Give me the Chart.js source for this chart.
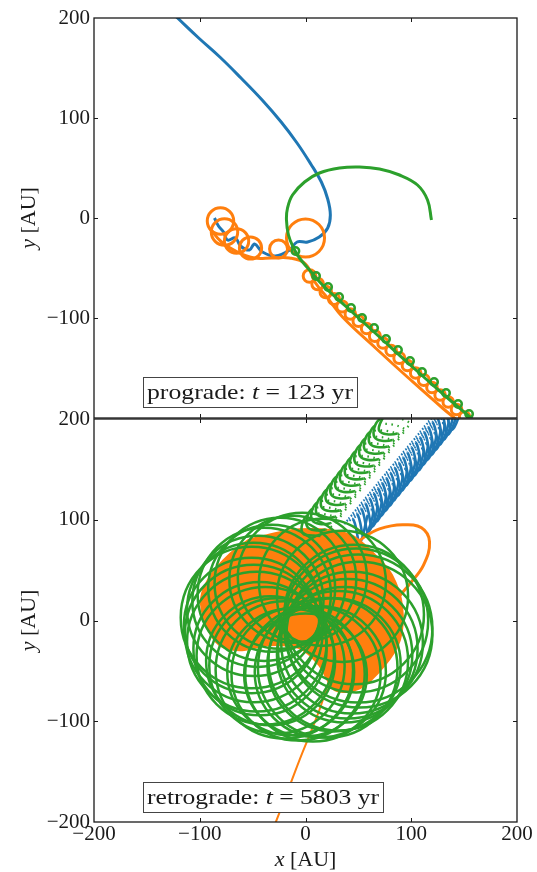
<!DOCTYPE html>
<html>
<head>
<meta charset="utf-8">
<script src="https://cdn.jsdelivr.net/npm/chart.js@4/dist/chart.umd.min.js"></script>
<style>
  html, body { margin: 0; padding: 0; background: #fff; }
  #wrap { position: relative; width: 537px; height: 872px; overflow: hidden; }
  #wrap canvas { position: absolute; left: 0; }
</style>
</head>
<body>
<div id="wrap">
  <canvas id="pro" width="537" height="419" style="top:0"></canvas>
  <canvas id="retro" width="537" height="472" style="top:400px"></canvas>
</div>
<script>
// ---- axes ----
const AXIS_MIN = -200;
const AXIS_MAX = 200;
const tickValues = [-200, -100, 0, 100, 200];
const tickLabels = ['\u2212200', '\u2212100', '0', '100', '200'];

// ---- prograde run (t = 123 yr), positions in AU ----
const proBlueX = [-128, -121, -101, -81, -61, -41, -23, -8, 5, 15, 21, 23.5, 21, 13, 2, -8, -15.1, -28.4, -40.7, -48.2, -53.0, -61.5, -66.2, -73.8, -77.5, -82.3, -86.1];
const proBlueY = [207, 200, 180, 161, 140, 118, 96, 75, 54, 36, 19, 3, -10, -19, -24, -24, -32, -38, -34, -26, -32, -28, -20, -22, -14, -8, 0];

const proOrangeX = [-90.8, -79.4, -64.3, -48.2, -32.2, -15.1, 0, 9.5, 20.8, 35.0, 66.2, 97.4, 129.5, 151.3, 160];
const proOrangeY = [-10, -24, -34, -40, -40, -40, -46, -65, -80, -99, -130, -160, -190, -209, -217];
const proOrangeLoopX = [-80.4, -76.6, -65.2, -52.0, -25.5, 0, 3.8, 11.5, 19.2, 27.0, 34.7, 42.4, 50.1, 57.8, 65.6, 73.3, 81.0, 88.7, 96.4, 104.2, 111.9, 119.6, 127.3, 135.0, 142.8, 150.5];
const proOrangeLoopY = [-3, -14, -23, -30, -31, -20, -58, -66, -74, -81, -88.5, -96, -103, -110.5, -118, -125, -132.5, -140, -147.5, -155, -162, -169.5, -177, -184, -191.5, -199];
const proOrangeLoopR = [12.5, 12.5, 11.5, 10.5, 8.5, 18, 6, 5.5, 5.5, 5.2, 5.2, 5, 5.2, 5, 5.2, 5, 5, 5.2, 5, 5, 5.2, 5, 5, 5, 5, 5];

const proGreenX = [119.1, 115.4, 105.9, 88.9, 70.0, 51.1, 32.2, 13.2, -0.9, -12.3, -17.0, -18.0, -16.1, -11.3, -5.7, 3.8, 16.1, 38.8, 70.0, 101.2, 133.3, 159.8, 168];
const proGreenY = [-2, 18, 33, 43, 49, 51, 50, 45, 36, 23, 10, -2, -17, -30, -40, -52, -67, -89, -119, -149, -179, -203, -211];
const proGreenLoopX = [-9.5, 10, 21.4, 31.8, 43.1, 53.5, 64.9, 76.2, 87.5, 98.9, 110.2, 121.6, 132.9, 144.3, 154.7];
const proGreenLoopY = [-33, -58, -69, -79, -90, -100, -110, -121, -132, -143, -154, -164, -175, -186, -196];
const proGreenLoopR = [3.5, 3.5, 3.5, 3.5, 3.5, 3.5, 3.5, 3.5, 3.5, 3.5, 3.5, 3.5, 3.5, 3.5, 3.5];

// ---- retrograde run (t = 5803 yr), positions in AU ----
// blue helix, per turn: left arm top, bottom, right arm top, return stroke
const retBlueX = [132.0, 138.6, 146.2, 119.7, 128.0, 134.6, 142.2, 115.7, 124.1, 130.7, 138.3, 111.8, 120.1, 126.7, 134.3, 107.8, 116.1, 122.7, 130.3, 103.8, 112.2, 118.8, 126.4, 99.9, 108.2, 114.8, 122.4, 95.9, 104.2, 110.8, 118.4, 91.9, 100.3, 106.9, 114.5, 88.0, 96.3, 102.9, 110.5, 84.0, 92.3, 98.9, 106.5, 80.0, 88.3, 94.9, 102.5, 76.0, 84.4, 91.0, 98.6, 72.1, 80.4, 87.0, 94.6, 68.1, 76.4, 83.0, 90.6, 64.1, 72.5, 79.1, 86.7, 60.2, 68.5, 75.1, 82.7, 56.2, 64.5, 71.1, 78.7, 52.2, 60.6, 67.2, 74.8, 48.3, 56.6, 63.2, 70.8, 44.3, 52.6, 59.2, 66.8, 40.3, 48.7, 55.3, 62.9, 36.4, 44.7, 51.3, 58.9];
const retBlueY = [212.2, 189.4, 216.2, 202.3, 207.1, 184.3, 211.1, 197.2, 202.1, 179.3, 206.1, 192.2, 197.0, 174.2, 201.0, 187.1, 191.9, 169.1, 195.9, 182.0, 186.9, 164.1, 190.9, 177.0, 181.8, 159.0, 185.8, 171.9, 176.8, 154.0, 180.8, 166.9, 171.7, 148.9, 175.7, 161.8, 166.6, 143.8, 170.6, 156.7, 161.6, 138.8, 165.6, 151.7, 156.5, 133.7, 160.5, 146.6, 151.5, 128.7, 155.5, 141.6, 146.4, 123.6, 150.4, 136.5, 141.3, 118.5, 145.3, 131.4, 136.3, 113.5, 140.3, 126.4, 131.2, 108.4, 135.2, 121.3, 126.2, 103.4, 130.2, 116.3, 121.1, 98.3, 125.1, 111.2, 116.0, 93.2, 120.0, 106.1, 111.0, 88.2, 115.0, 101.1, 105.9, 83.1, 109.9, 96.0, 100.9, 78.1, 104.9];

// green helix, per turn: arc top, lower-left, lower-right, return stroke
const retGreenCoilX = [75.4, 69.7, 86.8, 98.1, 70.9, 65.2, 82.3, 93.6, 66.4, 60.7, 77.8, 89.1, 61.8, 56.1, 73.2, 84.5, 57.3, 51.6, 68.7, 80.0, 52.7, 47.0, 64.1, 75.4, 48.2, 42.5, 59.6, 70.9, 43.7, 38.0, 55.1, 66.4, 39.1, 33.4, 50.5, 61.8, 34.6, 28.9, 46.0, 57.3, 30.0, 24.3, 41.4, 52.7, 25.5, 19.8, 36.9, 48.2, 21.0, 15.3, 32.4, 43.7, 16.4, 10.7, 27.8, 39.1, 11.9, 6.2, 23.3, 34.6, 7.3, 1.6, 18.7, 30.0, 2.8, -2.9, 14.2];
const retGreenCoilY = [206.4, 188.5, 185.5, 196.5, 200.0, 182.1, 179.1, 190.1, 193.7, 175.8, 172.8, 183.8, 187.3, 169.4, 166.4, 177.4, 181.0, 163.1, 160.1, 171.1, 174.6, 156.7, 153.7, 164.7, 168.3, 150.4, 147.4, 158.4, 161.9, 144.0, 141.0, 152.0, 155.6, 137.7, 134.7, 145.7, 149.2, 131.3, 128.3, 139.3, 142.9, 125.0, 122.0, 133.0, 136.5, 118.6, 115.6, 126.6, 130.2, 112.3, 109.3, 120.3, 123.8, 105.9, 102.9, 113.9, 117.5, 99.6, 96.6, 107.6, 111.1, 93.2, 90.2, 101.2, 104.8, 86.9, 83.9];

// precessing loops of the green orbit: loop centre and radius
const retGreenLoopX = [50, 48, 46, 51, 44, 40, 37, 31, 27, 21, 14, 7, 0, -7, -14, -20, -27, -33, -38, -43, -46, -49, -51, -51, -49, -45, -39, -32, -24, -12, -3, 16, 35];
const retGreenLoopY = [-8, 0, 6, -14, -22, -28, -34, -40, -44, -47, -51, -53, -54, -53, -51, -49, -45, -40, -35, -28, -21, -13, -5, 3, 11, 19, 26, 32, 37, 41, 43, 38, 24];
const retGreenLoopR = [70, 68, 66, 69, 67, 66, 64, 66, 63, 66, 62, 64, 58, 63, 60, 65, 64, 61, 65, 63, 66, 65, 64, 67, 63, 62, 63, 60, 62, 60, 61, 60, 62];

const retOrangeCloudX = [-53.0, -5.7, 41.6, 65.2, 81.3, 90.8, 88.9, 74.7, 51.1, 28.4, 13.2, -5.7, -34.0, -62.4, -81.3, -93.6, -98.3, -88.9, -71.9];
const retOrangeCloudY = [80, 90, 85, 65, 45, 15, -19, -44, -67, -69, -44, -27, -24, -29, -24, -4, 22, 45, 65];
const retOrangeArcX = [43.5, 55.8, 70.0, 91.7, 109.7, 117.3, 111.6, 98.3, 84.2, 74.7];
const retOrangeArcY = [72, 83, 91, 95, 92, 78, 55, 36, 18, 0];
const retOrangeTailX = [22.7, 11.3, -5.7, -19.9, -30.3];
const retOrangeTailY = [-59, -94, -138.5, -178, -206];

// ---- colours ----
const C_BLUE = '#1f77b4';
const C_ORANGE = '#ff7f0e';
const C_GREEN = '#2ca02c';
const SERIF = '"Liberation Serif", "DejaVu Serif", serif';

function pts(xs, ys) { return xs.map((x, i) => ({ x: x, y: ys[i] })); }
function pxPerAU(chart) {
  const s = chart.scales.x;
  return Math.abs(s.getPixelForValue(100) - s.getPixelForValue(0)) / 100;
}

function pathSet(xs, ys, color, order, width) {
  return {
    type: 'scatter', data: pts(xs, ys), showLine: true, borderColor: color,
    borderWidth: width || 3, tension: 0.4, pointRadius: 0, order: order, clip: 0, fill: false
  };
}
// helix turns: the fast return stroke of every turn is only sparsely sampled
function coilSet(xs, ys, color, order) {
  const ds = pathSet(xs, ys, color, order, 2.6);
  const sparse = ctx => ctx.p0DataIndex % 4 >= 2;
  ds.segment = {
    borderDash: ctx => (sparse(ctx) ? [1.5, 4.5] : undefined),
    borderWidth: ctx => (sparse(ctx) ? 2.2 : 2.6)
  };
  return ds;
}
function loopSet(xs, ys, rs, color, order, width) {
  return {
    type: 'scatter', data: pts(xs, ys), showLine: false, order: order, clip: 0,
    pointStyle: 'circle', pointBackgroundColor: 'rgba(0,0,0,0)', pointBorderColor: color,
    pointBorderWidth: width || 3,
    pointRadius: ctx => rs[ctx.dataIndex] * pxPerAU(ctx.chart)
  };
}

// frame, inward ticks, axis titles and the run label
const panelDecor = {
  id: 'panelDecor',
  afterDatasetsDraw(chart, args, opts) {
    const { ctx, chartArea: a } = chart;
    const xs = chart.scales.x, ys = chart.scales.y;
    ctx.save();
    ctx.strokeStyle = '#1a1a1a';
    ctx.lineWidth = 1.3;
    ctx.strokeRect(a.left, a.top, a.right - a.left, a.bottom - a.top);
    ctx.lineWidth = 1;
    ctx.beginPath();
    tickValues.slice(1, -1).forEach(v => {
      const px = Math.round(xs.getPixelForValue(v)) + 0.5;
      ctx.moveTo(px, a.top); ctx.lineTo(px, a.top + 4);
      ctx.moveTo(px, a.bottom); ctx.lineTo(px, a.bottom - 4);
      const py = Math.round(ys.getPixelForValue(v)) + 0.5;
      ctx.moveTo(a.left, py); ctx.lineTo(a.left + 4, py);
      ctx.moveTo(a.right, py); ctx.lineTo(a.right - 4, py);
    });
    ctx.stroke();

    ctx.fillStyle = '#1a1a1a';
    ctx.textBaseline = 'alphabetic';
    const drawRuns = (runs, x, y, size) => {
      let cx = x;
      runs.forEach(r => {
        ctx.font = (r.it ? 'italic ' : '') + size + 'px ' + SERIF;
        ctx.fillText(r.t, cx, y);
        cx += ctx.measureText(r.t).width;
      });
      return cx - x;
    };
    const measureRuns = (runs, size) => runs.reduce((w, r) => {
      ctx.font = (r.it ? 'italic ' : '') + size + 'px ' + SERIF;
      return w + ctx.measureText(r.t).width;
    }, 0);

    // y title
    const yRuns = [{ t: 'y', it: true }, { t: ' [AU]' }];
    const yw = measureRuns(yRuns, 22);
    ctx.save();
    ctx.translate(35, (a.top + a.bottom) / 2);
    ctx.rotate(-Math.PI / 2);
    drawRuns(yRuns, -yw / 2, 0, 22);
    ctx.restore();

    // x title
    if (opts.xTitle) {
      const xRuns = [{ t: 'x', it: true }, { t: ' [AU]' }];
      const xw = measureRuns(xRuns, 22);
      drawRuns(xRuns, (a.left + a.right) / 2 - xw / 2, a.bottom + 44, 22);
    }

    // run label box
    const runs = opts.label;
    const natural = measureRuns(runs, 22);
    const sx = opts.labelWidth / natural;
    const bx = a.left + 49, bw = opts.labelWidth + 8;
    const by = a.bottom - opts.boxBottom - 30;
    ctx.fillStyle = '#fff';
    ctx.fillRect(bx, by, bw, 30);
    ctx.strokeStyle = '#444';
    ctx.lineWidth = 1;
    ctx.strokeRect(bx + 0.5, by + 0.5, bw, 30);
    ctx.fillStyle = '#1a1a1a';
    ctx.save();
    ctx.translate(bx + 4, by + 22);
    ctx.scale(sx, 1);
    drawRuns(runs, 0, 0, 22);
    ctx.restore();
    ctx.restore();
  }
};

function panelOptions(cfg) {
  return {
    responsive: false,
    animation: false,
    events: [],
    layout: { padding: { top: cfg.padTop, right: 20, bottom: cfg.padBottom, left: 0 } },
    elements: { line: { capBezierPoints: false } },
    plugins: {
      legend: { display: false },
      tooltip: { enabled: false },
      panelDecor: cfg.decor
    },
    scales: {
      x: {
        type: 'linear', min: AXIS_MIN, max: AXIS_MAX,
        display: cfg.showX,
        afterBuildTicks: s => { s.ticks = tickValues.map(v => ({ value: v })); },
        ticks: {
          autoSkip: false, maxRotation: 0, padding: 0, color: '#1a1a1a',
          font: { family: SERIF, size: 21 },
          callback: v => tickLabels[tickValues.indexOf(v)]
        },
        grid: { display: false, drawTicks: false },
        border: { display: false },
        afterFit: s => { s.height = cfg.xHeight; s.paddingLeft = 0; s.paddingRight = 0; }
      },
      y: {
        type: 'linear', min: AXIS_MIN, max: AXIS_MAX,
        afterBuildTicks: s => { s.ticks = tickValues.map(v => ({ value: v })); },
        ticks: {
          autoSkip: false, padding: 4, color: '#1a1a1a',
          font: { family: SERIF, size: 21 },
          callback: v => (cfg.hideBottomY && v === AXIS_MIN) ? '' : tickLabels[tickValues.indexOf(v)]
        },
        grid: { display: false, drawTicks: false },
        border: { display: false },
        afterFit: s => { s.width = 94; s.paddingTop = 0; s.paddingBottom = 0; }
      }
    }
  };
}

new Chart(document.getElementById('pro'), {
  type: 'scatter',
  data: {
    datasets: [
      pathSet(proBlueX, proBlueY, C_BLUE, 6),
      pathSet(proOrangeX, proOrangeY, C_ORANGE, 5),
      loopSet(proOrangeLoopX, proOrangeLoopY, proOrangeLoopR, C_ORANGE, 4, 3),
      pathSet(proGreenX, proGreenY, C_GREEN, 2),
      loopSet(proGreenLoopX, proGreenLoopY, proGreenLoopR, C_GREEN, 1, 2.5)
    ]
  },
  plugins: [panelDecor],
  options: panelOptions({
    padTop: 18, padBottom: 1, showX: false, xHeight: 0, hideBottomY: true,
    decor: {
      xTitle: false, labelWidth: 206, boxBottom: 11,
      label: [{ t: 'prograde: ' }, { t: 't', it: true }, { t: ' = 123 yr' }]
    }
  })
});

const cloud = pathSet(retOrangeCloudX.concat([retOrangeCloudX[0]]), retOrangeCloudY.concat([retOrangeCloudY[0]]), C_ORANGE, 8, 0);
cloud.fill = 'shape';
cloud.backgroundColor = C_ORANGE;
cloud.tension = 0.3;

new Chart(document.getElementById('retro'), {
  type: 'scatter',
  data: {
    datasets: [
      coilSet(retBlueX, retBlueY, C_BLUE, 9),
      cloud,
      pathSet(retOrangeArcX, retOrangeArcY, C_ORANGE, 7, 3),
      pathSet(retOrangeTailX, retOrangeTailY, C_ORANGE, 6, 2),
      coilSet(retGreenCoilX, retGreenCoilY, C_GREEN, 2),
      loopSet(retGreenLoopX, retGreenLoopY, retGreenLoopR, C_GREEN, 1, 2.5)
    ]
  },
  plugins: [panelDecor],
  options: panelOptions({
    padTop: 19, padBottom: 0, showX: true, xHeight: 50, hideBottomY: false,
    decor: {
      xTitle: true, labelWidth: 232, boxBottom: 10,
      label: [{ t: 'retrograde: ' }, { t: 't', it: true }, { t: ' = 5803 yr' }]
    }
  })
});
</script>
</body>
</html>
